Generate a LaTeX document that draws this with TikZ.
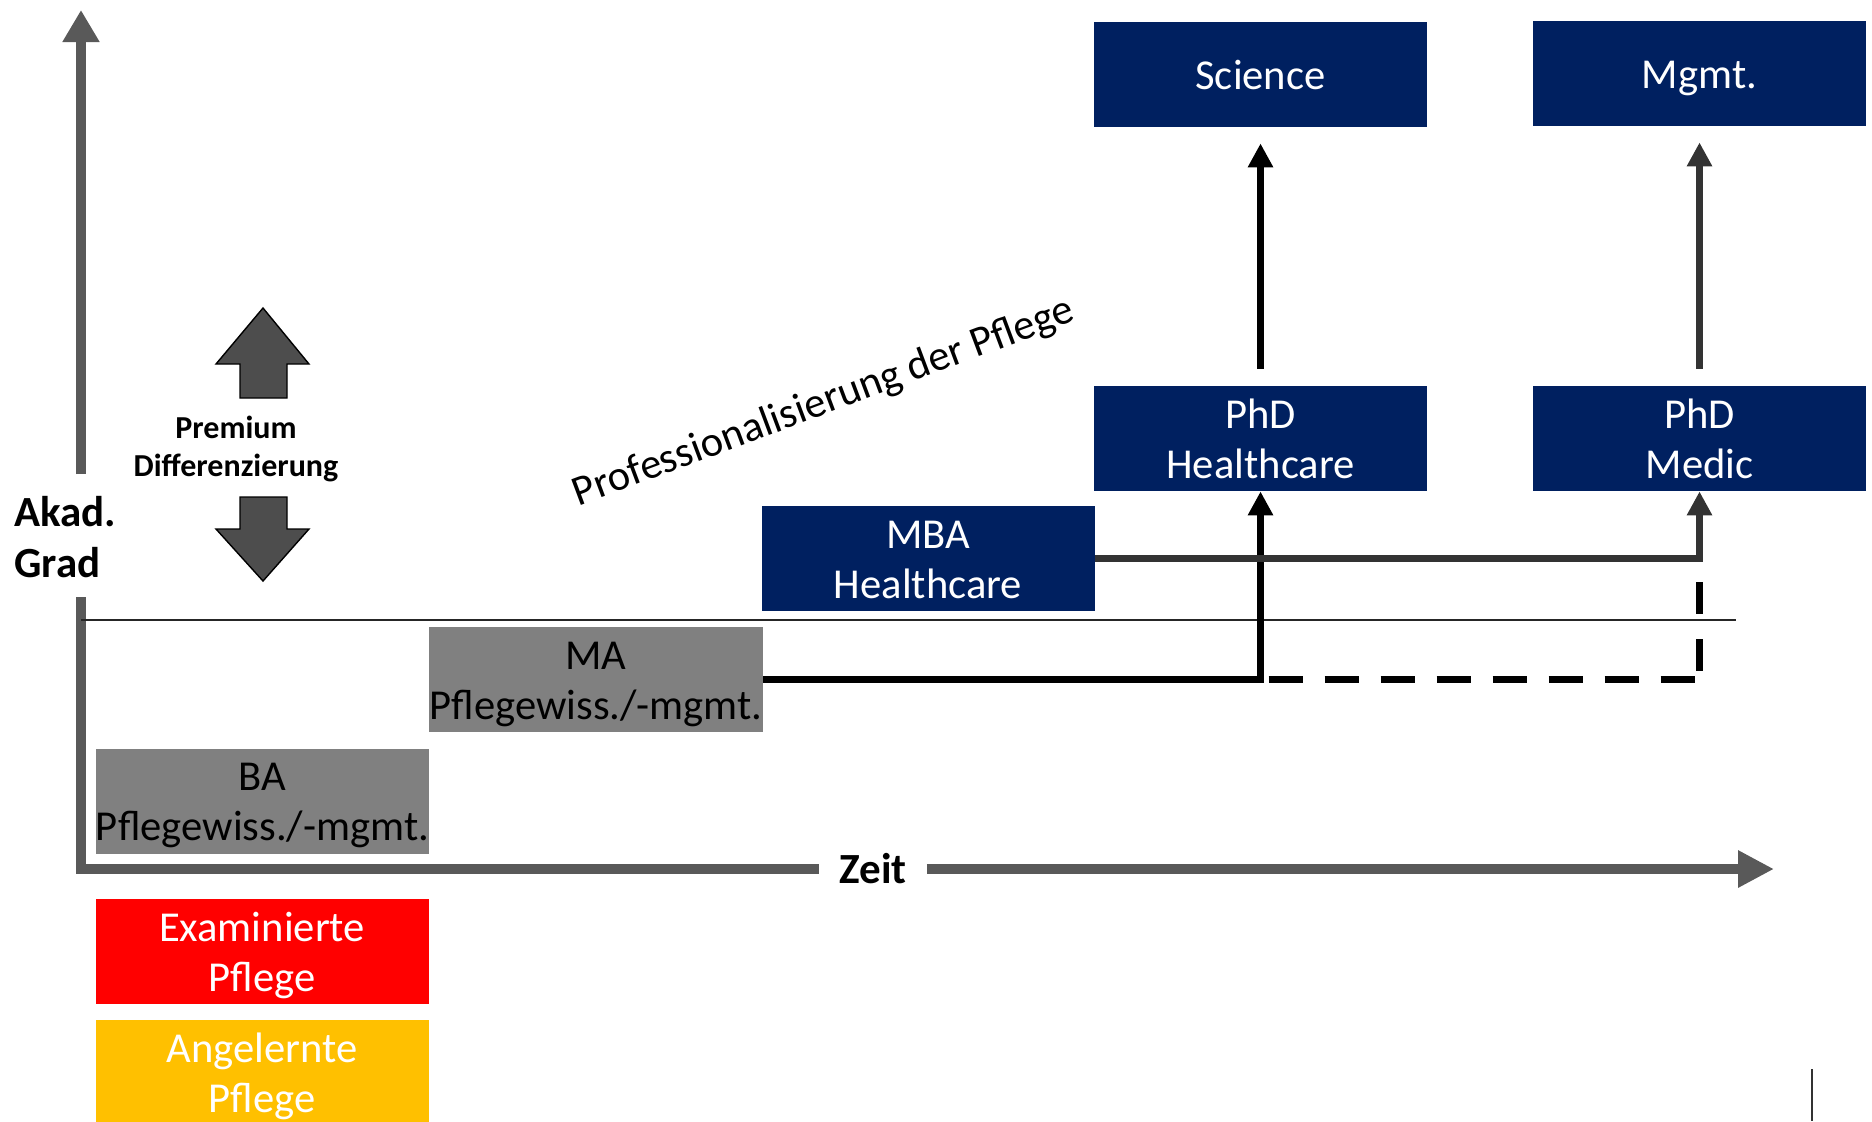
\documentclass[tikz,border=0pt]{standalone}
\usepackage{fontspec}
\setmainfont{Carlito}
\usetikzlibrary{arrows.meta}
\definecolor{navy}{HTML}{002060}
\definecolor{boxgray}{HTML}{808080}
\definecolor{exred}{HTML}{FF0000}
\definecolor{amber}{HTML}{FFC000}
\definecolor{axisgray}{HTML}{595959}
\definecolor{dgray}{HTML}{333333}
\definecolor{blockgray}{HTML}{4D4D4D}
% two centred lines with a fixed outer height and depth
\newcommand{\boxlines}[2]{\rule{0pt}{19.5pt}#1\\#2\rule[-5pt]{0pt}{5pt}}
\begin{document}
\begin{tikzpicture}[x=0.5pt,y=-0.5pt,
  box/.style={rectangle, inner sep=0pt, minimum width=166.5pt, minimum height=52.5pt,
    align=center, font=\fontsize{21.3}{25}\selectfont},
  oneline/.style={text height=19.5pt, text depth=5pt},
  navybox/.style={box, fill=navy, text=white},
  graybox/.style={box, fill=boxgray, text=black},
  redbox/.style={box, fill=exred, text=white},
  amberbox/.style={box, fill=amber, text=white},
  axisline/.style={line width=5pt, draw=axisgray, line join=miter},
  link/.style={line width=3.2pt, line join=miter, -{Triangle[length=12pt,width=12pt]}},
  dashlink/.style={line width=3.2pt},
  blockarrow/.style={fill=blockgray, draw=black, line width=0.7pt, line join=miter},
  label/.style={inner sep=0pt, font=\bfseries\fontsize{21.5}{25.5}\selectfont}]

\useasboundingbox (0,0) rectangle (1872,1121);
\clip (0,0) rectangle (1872,1121);

% degree boxes
\node[navybox, oneline] (sci)  at (1260.5,74.5)  {Science};
\node[navybox, oneline] (mgmt) at (1699.5,73.5)  {Mgmt.};
\node[navybox] (phdh)  at (1260.5,438.5) {\boxlines{PhD}{Healthcare}};
\node[navybox] (phdm)  at (1699.5,438.5) {\boxlines{PhD}{Medic}};
\node[navybox] (mba)   at (928,558.5)    {\boxlines{MBA}{Healthcare}};
\node[graybox] (ma)    at (596,679.5)    {\boxlines{MA}{Pflegewiss./-mgmt.}};
\node[graybox] (ba)    at (262.5,801)    {\boxlines{BA}{Pflegewiss./-mgmt.}};
\node[redbox]  (exam)  at (262,951.5)    {\boxlines{Examinierte}{Pflege}};
\node[amberbox] (angel) at (262,1072.5)  {\boxlines{Angelernte}{Pflege}};

% axis labels
\node[label, anchor=west, align=left] (akad) at (14,537) {Akad.\\Grad};
\node[label, inner xsep=10pt] (zeit) at (873,869) {Zeit};

% axes
\coordinate (origin) at (81,869);
\coordinate (gapbot) at (81,597);
\coordinate (gaptop) at (81,474);
\coordinate (ytip)   at (81,10);
\coordinate (xtip)   at (1774,869);
\draw[axisline] (gapbot) -- (origin) -- (zeit.west);
\draw[axisline, -{Triangle[length=16pt,width=17.5pt]}] (gaptop) -- (ytip);
\draw[axisline, -{Triangle[length=18pt,width=17.5pt]}] (zeit.east) -- (xtip);

% master level separator
\coordinate (sepend) at (1736,620);
\draw[line width=1.2pt, draw=black!85] (origin |- sepend) -- (sepend);

% premium differentiation
\draw[blockarrow] (263,308) -- (309,364) -- (287,364) -- (287,398) -- (240,398) -- (240,364) -- (216,364) -- cycle;
\draw[blockarrow] (240,497) -- (287,497) -- (287,529) -- (309,529) -- (263,581) -- (216,529) -- (240,529) -- cycle;
\node[inner sep=0pt, align=center, font=\bfseries\fontsize{16}{19}\selectfont] (prem) at (236,449)
  {Premium\\Differenzierung};

% slanted caption
\node[inner sep=0pt, rotate=20.5, font=\fontsize{21.3}{25}\selectfont] (prof) at (824,403)
  {Professionalisierung der Pflege};

% career paths
\draw[link, shorten <=8.5pt, shorten >=8pt] (phdh.north) -- (sci.south);
\draw[link, draw=dgray, shorten <=8.5pt, shorten >=8pt] (phdm.north) -- (mgmt.south);
\draw[link] (ma.east) -| (phdh.south);
\draw[link, draw=dgray] (mba.east) -| (phdm.south);

\coordinate (dstart)  at (phdh.south |- ma.east);
\coordinate (dcorner) at (phdm.south |- ma.east);
\coordinate (dtop)    at (1699.5,581);
\draw[dashlink, dash pattern=on 17pt off 11pt, dash phase=24pt] (dstart) -- (dcorner);
\draw[dashlink, dash pattern=on 16pt off 12.5pt, dash phase=24pt] (dcorner) -- (dtop);

% stray edge mark
\draw[line width=1pt, draw=black!80] (1812,1069) -- (1812,1121);

\end{tikzpicture}
\end{document}
